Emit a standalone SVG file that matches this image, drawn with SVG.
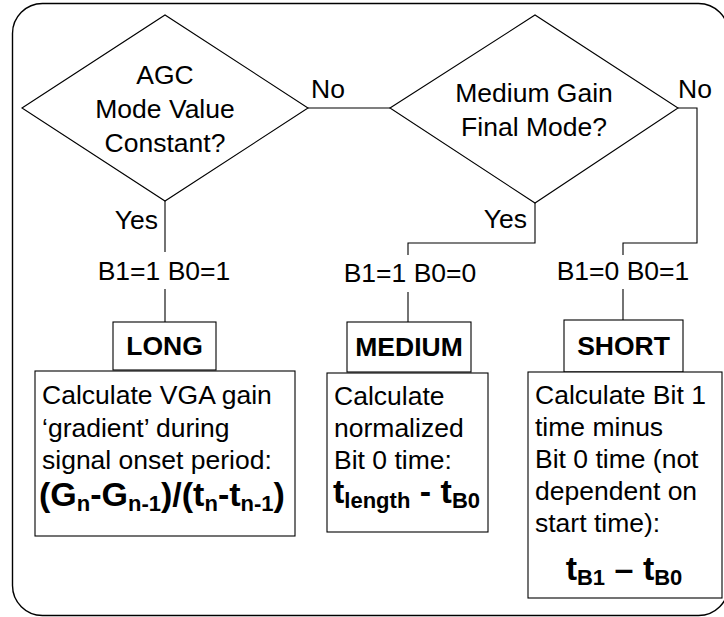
<svg xmlns="http://www.w3.org/2000/svg" width="724" height="617" viewBox="0 0 724 617">
<style>
text{font-family:"Liberation Sans",Arial,sans-serif;fill:#000}
.t{font-size:26.5px}
.c{text-anchor:middle}
.b{font-weight:bold;font-size:26.5px}
.f{font-weight:bold;font-size:34px}
.s{font-size:22px}
.shape{fill:#fff;stroke:#000;stroke-width:1.1}
.ln{fill:none;stroke:#000;stroke-width:1.1}
</style>
<rect x="12.5" y="3.5" width="716" height="612" rx="30" ry="30" fill="#fff" stroke="#000" stroke-width="1.4"/>
<g id="connectors">
<path class="ln" d="M308,108 H390"/>
<path class="ln" d="M678,108 H697 V243 H623 V255"/>
<path class="ln" d="M623,289 V320"/>
<path class="ln" d="M535,203 V243 H408 V255"/>
<path class="ln" d="M408,292 V322"/>
<path class="ln" d="M165,201 V252"/>
<path class="ln" d="M165,289 V322"/>
<text class="t c" x="328" y="98">No</text>
<text class="t c" x="695" y="98">No</text>
<text class="t" x="527" y="228" text-anchor="end">Yes</text>
<text class="t" x="158" y="229" text-anchor="end">Yes</text>
<text class="t c" x="164" y="280">B1=1 B0=1</text>
<text class="t c" x="410" y="282">B1=1 B0=0</text>
<text class="t c" x="623" y="280">B1=0 B0=1</text>
</g>
<g id="decision1">
<polygon class="shape" points="22,108 165,15 308,108 165,201"/>
<text class="t c" x="165" y="84">AGC</text>
<text class="t c" x="165" y="118">Mode Value</text>
<text class="t c" x="165" y="152">Constant?</text>
</g>
<g id="decision2">
<polygon class="shape" points="390,108 535,15 678,108 535,203"/>
<text class="t c" x="534" y="102">Medium Gain</text>
<text class="t c" x="534" y="136">Final Mode?</text>
</g>
<g id="long">
<rect class="shape" x="113" y="322" width="103" height="48"/>
<text class="b c" x="164.5" y="355">LONG</text>
</g>
<g id="long-calc">
<rect class="shape" x="35" y="371" width="260" height="165"/>
<text class="t" x="42" y="404">Calculate VGA gain</text>
<text class="t" x="42" y="437">‘gradient’ during</text>
<text class="t" x="42" y="469">signal onset period:</text>
<text class="f" x="39" y="506">(G<tspan class="s" dy="5">n</tspan><tspan dy="-5">-G</tspan><tspan class="s" dy="5">n-1</tspan><tspan dy="-5">)/(t</tspan><tspan class="s" dy="5">n</tspan><tspan dy="-5">-t</tspan><tspan class="s" dy="5">n-1</tspan><tspan dy="-5">)</tspan></text>
</g>
<g id="medium">
<rect class="shape" x="347" y="322" width="124" height="50"/>
<text class="b c" x="409" y="356">MEDIUM</text>
</g>
<g id="medium-calc">
<rect class="shape" x="327" y="373" width="161" height="159"/>
<text class="t" x="334" y="405">Calculate</text>
<text class="t" x="334" y="437">normalized</text>
<text class="t" x="334" y="469">Bit 0 time:</text>
<text class="f" x="333" y="503">t<tspan class="s" dy="5">length</tspan><tspan dy="-5"> - t</tspan><tspan class="s" dy="5">B0</tspan></text>
</g>
<g id="short">
<rect class="shape" x="564" y="320" width="119" height="52"/>
<text class="b c" x="623.5" y="355">SHORT</text>
</g>
<g id="short-calc">
<rect class="shape" x="528" y="372" width="194" height="226"/>
<text class="t" x="535" y="404">Calculate Bit 1</text>
<text class="t" x="535" y="436">time minus</text>
<text class="t" x="535" y="468">Bit 0 time (not</text>
<text class="t" x="535" y="500">dependent on</text>
<text class="t" x="535" y="532">start time):</text>
<text class="f c" x="624" y="580">t<tspan class="s" dy="5">B1</tspan><tspan dy="-5"> – t</tspan><tspan class="s" dy="5">B0</tspan></text>
</g>
</svg>
